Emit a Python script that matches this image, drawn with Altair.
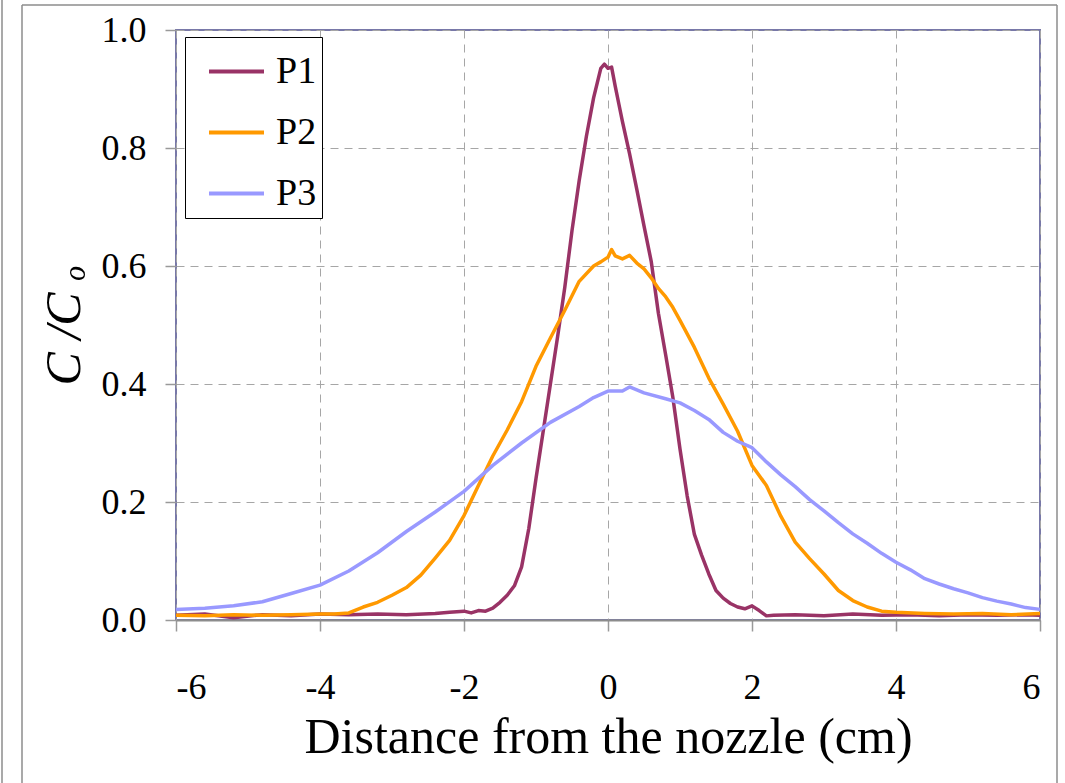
import altair as alt
import pandas as pd

# ---- data ----
p1_x = [-6.0, -5.6, -5.2, -4.8, -4.4, -4.0, -3.6, -3.2, -2.8, -2.4, -2.2, -2.0, -1.9, -1.8, -1.7,
        -1.6, -1.5, -1.4, -1.3, -1.2, -1.1, -1.0, -0.9, -0.8, -0.7, -0.6, -0.5, -0.4, -0.3, -0.2,
        -0.15, -0.1, -0.05, 0.0, 0.05, 0.1, 0.15, 0.2, 0.3, 0.4, 0.5, 0.6, 0.7, 0.8, 0.9, 1.0,
        1.1, 1.2, 1.3, 1.4, 1.5, 1.6, 1.7, 1.8, 1.9, 2.0, 2.1, 2.2, 2.3, 2.6, 3.0, 3.4, 3.8,
        4.2, 4.6, 5.0, 5.4, 5.8, 6.0]
p1_y = [0.008, 0.010, 0.004, 0.009, 0.007, 0.010, 0.009, 0.010, 0.009, 0.011, 0.013, 0.015, 0.012, 0.016, 0.015,
        0.020, 0.030, 0.042, 0.058, 0.090, 0.155, 0.240, 0.320, 0.400, 0.480, 0.564, 0.660, 0.745, 0.820, 0.885,
        0.910, 0.935, 0.942, 0.935, 0.937, 0.905, 0.875, 0.845, 0.790, 0.730, 0.668, 0.608, 0.520, 0.450, 0.378, 0.290,
        0.210, 0.145, 0.110, 0.078, 0.050, 0.037, 0.028, 0.022, 0.019, 0.024, 0.016, 0.007, 0.008, 0.009, 0.007, 0.010, 0.008,
        0.009, 0.007, 0.009, 0.008, 0.009, 0.008]

p2_x = [-6.0, -5.6, -5.2, -4.8, -4.4, -4.0, -3.8, -3.6, -3.4, -3.2, -3.0, -2.8, -2.6, -2.4, -2.2,
        -2.0, -1.8, -1.6, -1.4, -1.2, -1.0, -0.8, -0.6, -0.4, -0.2, -0.1, 0.0, 0.05, 0.1, 0.2,
        0.3, 0.4, 0.5, 0.6, 0.7, 0.8, 0.9, 1.0, 1.2, 1.4, 1.6, 1.8, 2.0, 2.2, 2.4, 2.6, 2.8,
        3.0, 3.2, 3.4, 3.6, 3.8, 4.0, 4.4, 4.8, 5.2, 5.6, 6.0]
p2_y = [0.008, 0.007, 0.009, 0.008, 0.009, 0.010, 0.010, 0.012, 0.022, 0.030, 0.042, 0.055, 0.076, 0.105, 0.135,
        0.177, 0.228, 0.278, 0.322, 0.370, 0.430, 0.478, 0.525, 0.574, 0.600, 0.607, 0.615, 0.628, 0.617, 0.612,
        0.618, 0.605, 0.595, 0.580, 0.562, 0.548, 0.530, 0.508, 0.462, 0.410, 0.366, 0.320, 0.262, 0.228, 0.176, 0.132, 0.104,
        0.078, 0.050, 0.033, 0.022, 0.015, 0.013, 0.011, 0.010, 0.011, 0.009, 0.011]

p3_x = [-6.0, -5.6, -5.2, -4.8, -4.4, -4.0, -3.6, -3.2, -2.8, -2.4, -2.0, -1.6, -1.2, -0.8, -0.4,
        -0.2, 0.0, 0.2, 0.3, 0.5, 0.8, 1.0, 1.2, 1.4, 1.6, 1.8, 2.0, 2.2, 2.4, 2.6, 2.8, 3.0,
        3.2, 3.4, 3.6, 3.8, 4.0, 4.2, 4.4, 4.6, 4.8, 5.0, 5.2, 5.4, 5.6, 5.8, 6.0]
p3_y = [0.018, 0.020, 0.024, 0.031, 0.045, 0.059, 0.083, 0.114, 0.150, 0.183, 0.218, 0.262, 0.300, 0.335, 0.362,
        0.377, 0.388, 0.388, 0.395, 0.385, 0.375, 0.368, 0.355, 0.340, 0.318, 0.303, 0.292, 0.268, 0.246, 0.226, 0.204, 0.185,
        0.165, 0.146, 0.130, 0.113, 0.098, 0.085, 0.070, 0.061, 0.053, 0.046, 0.038, 0.032, 0.027, 0.021, 0.018]

series_names = ["P1", "P2", "P3"]
series_colors = ["#993366", "#FF9900", "#9999FF"]
x_ticks = [-6, -4, -2, 0, 2, 4, 6]
y_ticks = [0.0, 0.2, 0.4, 0.6, 0.8, 1.0]

rows = []
for name, xs, ys in zip(series_names, [p1_x, p2_x, p3_x], [p1_y, p2_y, p3_y]):
    for i, (a, b) in enumerate(zip(xs, ys)):
        rows.append({"series": name, "x": a, "y": b, "order": i})
df = pd.DataFrame(rows)

FONT = "Liberation Serif"

lines = alt.Chart(df).mark_line(strokeWidth=3.5, strokeJoin="round").encode(
    x=alt.X("x:Q",
            scale=alt.Scale(domain=[-6, 6], nice=False, zero=False),
            axis=alt.Axis(values=x_ticks, labelExpr="'' + datum.value",
                          title="Distance from the nozzle (cm)",
                          titleY=132, titleBaseline="alphabetic",
                          tickSize=11, labelPadding=39,
                          grid=True)),
    y=alt.Y("y:Q",
            scale=alt.Scale(domain=[0, 1], nice=False),
            axis=alt.Axis(values=y_ticks, format=".1f",
                          title="C /C ₒ", titleFontStyle="italic",
                          titleX=-97, titleBaseline="alphabetic",
                          tickSize=11, labelPadding=19,
                          domain=False, grid=True)),
    color=alt.Color("series:N",
                    scale=alt.Scale(domain=series_names, range=series_colors),
                    legend=alt.Legend(title=None, orient="none", legendX=9, legendY=7,
                                      symbolType="stroke", symbolSize=3025,
                                      symbolStrokeWidth=4, labelOffset=10,
                                      symbolOffset=17,
                                      labelFontSize=38, labelFont=FONT,
                                      labelColor="black",
                                      padding=5, rowPadding=12,
                                      fillColor="white", strokeColor="black")),
    order="order:Q",
)

frame_df = pd.DataFrame({"k": [0]})
frame_left1 = alt.Chart(frame_df).mark_rule(color="#8c8c8c", strokeWidth=1.5).encode(
    x=alt.value(-174), y=alt.value(-40), y2=alt.value(760))
frame_left2 = alt.Chart(frame_df).mark_rule(color="#8c8c8c", strokeWidth=1.5).encode(
    x=alt.value(-154), y=alt.value(-25), y2=alt.value(760))
frame_top = alt.Chart(frame_df).mark_rule(color="#8c8c8c", strokeWidth=1.5).encode(
    x=alt.value(-154), x2=alt.value(881), y=alt.value(-25))
frame_right = alt.Chart(frame_df).mark_rule(color="#8c8c8c", strokeWidth=1.5).encode(
    x=alt.value(881), y=alt.value(-25), y2=alt.value(760))

chart = alt.layer(lines, frame_left1, frame_left2, frame_top, frame_right).properties(
    width=864, height=590,
    autosize=alt.AutoSizeParams(type="none"),
    padding={"left": 176, "top": 30, "right": 25, "bottom": 163},
    background="white",
).configure_view(
    stroke="#7878a8", strokeWidth=2
).configure_axis(
    labelFont=FONT, titleFont=FONT, labelFontSize=36, titleFontSize=50,
    labelColor="black", titleColor="black", titleFontWeight="normal",
    gridColor="#a6a6a6", gridDash=[8, 6], gridWidth=1,
    tickColor="#999999", tickWidth=1.5,
    domainColor="#8c8c8c", domainWidth=2,
)

chart.save("out.html", embed_options={"renderer": "svg", "actions": False})
